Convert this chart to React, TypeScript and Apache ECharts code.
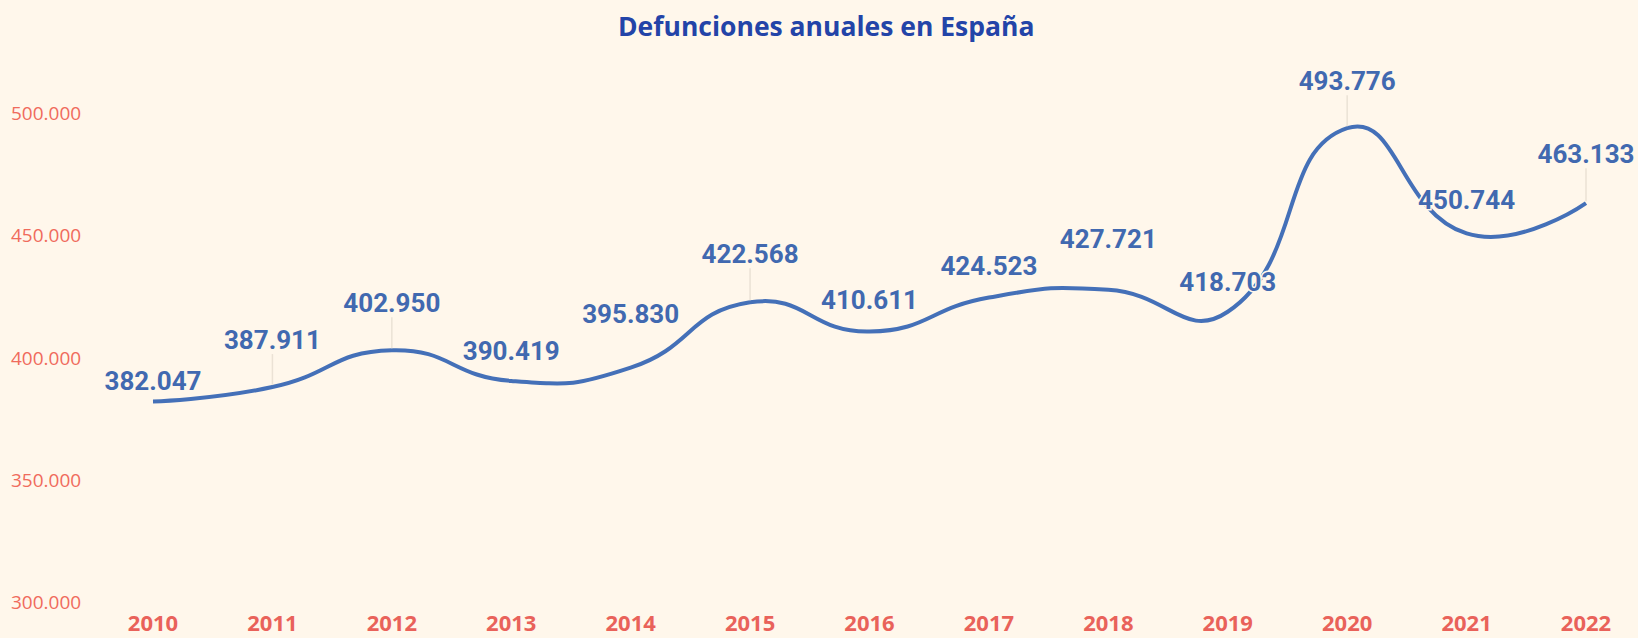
import React, { useEffect, useRef } from 'react';
import * as echarts from 'echarts';

// ---- data ----
const years = ['2010', '2011', '2012', '2013', '2014', '2015', '2016', '2017', '2018', '2019', '2020', '2021', '2022'];
const deaths = [382047, 387911, 402950, 390419, 395830, 422568, 410611, 424523, 427721, 418703, 493776, 450744, 463133];
const yMin = 300000;
const yMax = 500000;
const yStep = 50000;

// ---- label layout (styling, not data): label centre offset from its point, in px ----
const labelLift = [-20, -47, -47, -30, -54, -48, -32, -32, -51, -30, -47, -33, -49];
const withGuide = [false, true, true, false, false, true, false, false, false, false, true, false, true];

const BG = '#fff7eb';
const LINE = '#4470b8';
const GUIDE = '#ebe2d5';
const fmt = (v: number) => String(Math.round(v)).replace(/\B(?=(\d{3})+(?!\d))/g, '.');

export default function App() {
  const ref = useRef<HTMLDivElement>(null);
  useEffect(() => {
    if (!ref.current) return;
    const chart = echarts.init(ref.current, null, { renderer: 'svg' });
    chart.setOption({
      animation: false,
      backgroundColor: BG,
      title: {
        text: 'Defunciones anuales en España',
        left: 618,
        top: 12,
        padding: 0,
        textStyle: { fontFamily: 'Open Sans', fontWeight: 'bold', fontSize: 26.5, color: '#2344a8' },
      },
      grid: { left: 153, right: 52, top: 113, bottom: 36, containLabel: false },
      xAxis: {
        type: 'category',
        data: years,
        boundaryGap: false,
        axisLine: { show: false },
        axisTick: { show: false },
        splitLine: { show: false },
        axisLabel: {
          margin: 10,
          fontFamily: 'Open Sans',
          fontWeight: 'bold',
          fontSize: 22,
          lineHeight: 20,
          color: '#e9625a',
        },
      },
      yAxis: {
        type: 'value',
        min: yMin,
        max: yMax,
        interval: yStep,
        axisLine: { show: false },
        axisTick: { show: false },
        splitLine: { show: false },
        axisLabel: {
          align: 'left',
          margin: 142,
          fontFamily: 'Open Sans',
          fontSize: 19,
          color: '#f06b5c',
          formatter: (v: number) => fmt(v),
        },
      },
      series: [
        {
          type: 'custom',
          silent: true,
          z: 2,
          data: deaths.map((v, i) => [i, v]),
          encode: { x: 0, y: 1 },
          renderItem: (params: any, api: any) => {
            const i = params.dataIndex;
            const children: any[] = [];
            if (i === 0) {
              const pts = deaths.map((v, k) => api.coord([k, v]));
              children.push({
                type: 'polyline',
                shape: { points: pts, smooth: 0.5 },
                style: { stroke: LINE, lineWidth: 4, fill: null, lineCap: 'butt' },
              });
            }
            if (withGuide[i]) {
              const p = api.coord([i, deaths[i]]);
              children.push({
                type: 'line',
                shape: { x1: p[0], y1: p[1] - 2, x2: p[0], y2: p[1] + labelLift[i] + 14 },
                style: { stroke: GUIDE, lineWidth: 1.5 },
              });
            }
            return { type: 'group', children };
          },
        },
        {
          type: 'line',
          silent: true,
          z: 3,
          showSymbol: true,
          symbol: 'circle',
          symbolSize: 0,
          lineStyle: { width: 0, opacity: 0 },
          itemStyle: { color: LINE },
          emphasis: { disabled: true },
          data: deaths.map((v, i) => ({ value: v, label: { offset: [0, labelLift[i]] } })),
          label: {
            show: true,
            position: 'inside',
            fontFamily: 'Roboto',
            fontWeight: 'bold',
            fontSize: 26,
            color: '#4169b0',
            textBorderColor: BG,
            textBorderWidth: 3,
            formatter: (p: any) => fmt(p.value),
          },
        },
      ],
    });
    return () => chart.dispose();
  }, []);
  return (
    <div
      ref={ref}
      style={{ position: 'fixed', left: 0, top: 0, width: 1638, height: 638 }}
    />
  );
}
